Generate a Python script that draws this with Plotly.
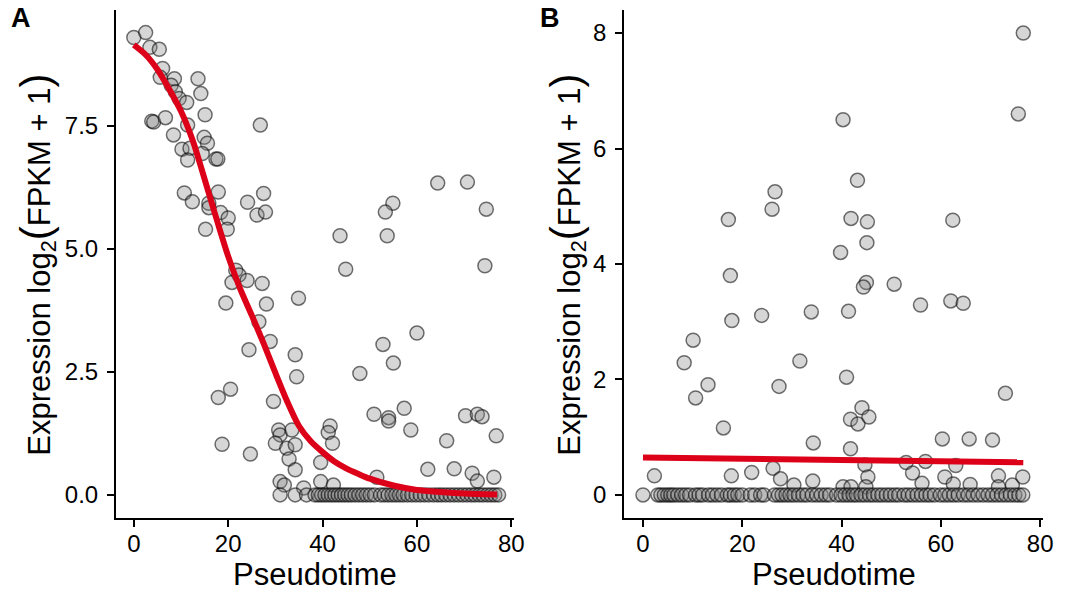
import plotly.graph_objects as go

# ---------------- Panel A data ----------------
a_x = [0.0, 2.5, 3.4, 5.4, 6.1, 5.6, 8.6, 7.9, 8.8, 9.6, 11.2, 13.6, 14.2, 15.1, 3.8, 4.2, 6.7, 11.4,
       8.4, 14.9, 15.6, 10.2, 11.9, 14.5, 11.4, 17.4, 17.8, 26.8, 10.7, 12.4, 17.9, 15.9, 15.9, 18.4,
       20.0, 19.8, 15.2, 24.1, 27.5, 26.1, 27.9,
       21.6, 22.3, 20.8, 24.0, 27.2, 19.5, 28.1, 26.5, 28.9, 24.4, 34.9, 34.2, 34.5, 20.5, 17.9, 29.6,
       30.7, 31.0, 30.0, 33.5, 18.7, 24.7, 32.4, 32.9, 34.2, 31.0, 31.9,
       64.4, 70.7, 74.7, 54.9, 53.3, 43.7, 53.7, 44.9, 74.4, 60.0, 52.8, 55.0, 47.9, 50.9, 54.0, 54.0,
       57.3, 58.7, 70.3, 72.8, 73.8, 76.8, 66.3, 41.6, 41.2, 42.1, 34.2, 39.6, 62.3, 67.9, 71.7, 72.8,
       76.3, 51.5, 39.6, 42.3, 36.0]
a_y = [9.30, 9.40, 9.10, 9.06, 8.67, 8.49, 8.46, 8.33, 8.20, 8.06, 7.98, 8.46, 8.16, 7.73, 7.60, 7.58, 7.67, 7.52,
       7.32, 7.27, 7.15, 7.03, 7.05, 6.94, 6.81, 6.83, 6.83, 7.52, 6.14, 5.96, 6.16, 5.93, 5.84, 5.74,
       5.63, 5.40, 5.40, 5.95, 6.13, 5.69, 5.75,
       4.57, 4.47, 4.32, 4.36, 4.30, 3.90, 3.88, 3.52, 3.12, 2.95, 4.00, 2.85, 2.40, 2.15, 1.98, 1.90,
       1.32, 1.22, 1.05, 1.32, 1.03, 0.83, 0.95, 0.73, 0.51, 0.27, 0.20,
       6.34, 6.36, 5.81, 5.93, 5.75, 5.27, 5.27, 4.59, 4.66, 3.29, 3.06, 2.68, 2.47, 1.64, 1.57, 1.50,
       1.76, 1.32, 1.61, 1.64, 1.59, 1.20, 1.10, 1.40, 1.27, 1.05, 1.02, 0.66, 0.52, 0.53, 0.44, 0.28,
       0.36, 0.36, 0.27, 0.20, 0.14]
a_zero_x = [31.0, 34.2, 36.6, 38.4, 39.1, 39.8, 40.5, 41.2, 41.9, 42.6, 43.3, 44.0, 44.7, 45.4, 46.1,
            46.9, 47.7, 48.5, 49.3, 50.1, 51.0, 52.3, 53.1, 53.9, 54.7, 55.5, 56.3, 57.1, 58.0, 58.9,
            59.8, 60.7, 61.6, 62.5, 63.5, 64.4, 65.2, 66.1, 67.0, 67.9, 68.8, 69.7, 70.6, 71.5, 72.3,
            73.2, 74.0, 74.9, 75.7, 76.5, 77.3]
a_fit_x = [0, 2.5, 5, 7.5, 10, 12.5, 15, 17.5, 20, 22.5, 25, 27.5, 30, 32.5, 35, 37.5, 40, 42.5,
           45, 47.5, 50, 55, 60, 65, 70, 77]
a_fit_y = [9.15, 8.95, 8.65, 8.25, 7.80, 7.20, 6.42, 5.62, 4.85, 4.20, 3.65, 3.08, 2.48, 1.90, 1.40,
           1.09, 0.87, 0.68, 0.54, 0.43, 0.33, 0.19, 0.10, 0.06, 0.03, 0.01]

# ---------------- Panel B data ----------------
b_x = [26.6, 26.0, 17.2, 17.6, 17.9, 23.9, 33.9, 10.1, 8.3, 31.6, 13.1, 10.6, 27.4, 16.2, 34.3, 2.3,
       17.8, 21.9, 26.2, 27.7, 30.4, 34.2,
       76.6, 75.6, 40.3, 43.2, 41.9, 45.2, 62.4, 45.1, 39.8, 45.0, 44.4, 50.6, 55.9, 62.0, 64.5, 41.4,
       41.0, 73.0, 44.1, 41.8, 43.3, 45.5, 41.8, 60.3, 65.7, 70.4, 44.7, 45.3, 53.0, 54.3, 56.9, 56.2,
       63.0, 60.8, 62.5, 65.9, 71.6, 71.6, 74.4, 76.5, 40.3, 41.9, 44.9]
b_y = [5.25, 4.95, 4.77, 3.80, 3.02, 3.11, 3.17, 2.68, 2.29, 2.32, 1.91, 1.68, 1.88, 1.16, 0.90, 0.33,
       0.33, 0.39, 0.46, 0.28, 0.17, 0.24,
       8.00, 6.60, 6.50, 5.45, 4.79, 4.73, 4.76, 4.37, 4.20, 3.68, 3.60, 3.65, 3.29, 3.36, 3.32, 3.18,
       2.04, 1.76, 1.51, 1.31, 1.23, 1.35, 0.80, 0.97, 0.97, 0.95, 0.52, 0.31, 0.56, 0.38, 0.58, 0.20,
       0.51, 0.31, 0.19, 0.18, 0.33, 0.14, 0.17, 0.31, 0.14, 0.14, 0.14]
b_zero_x = [0.0, 3.0, 3.6, 4.3, 5.0, 5.6, 6.2, 7.0, 7.8, 8.6, 9.4, 10.6, 11.3, 12.0, 13.2, 14.0, 14.9,
            15.8, 17.0, 17.6, 18.4, 19.1, 20.0, 21.6, 22.5, 23.7, 24.4, 26.5, 27.3, 28.0, 28.8, 29.6,
            30.4, 31.3, 32.2, 33.0, 34.1, 35.0, 35.9, 36.8, 37.6, 39.0, 39.9, 40.7, 41.5, 42.3, 43.0,
            43.9, 44.7, 45.6, 46.4, 47.3, 48.1, 49.0, 49.8, 50.7, 51.5, 52.6, 53.4, 54.3, 55.2, 56.1,
            57.0, 57.8, 58.7, 59.9, 60.8, 61.7, 62.6, 63.5, 64.6, 65.5, 66.5, 67.5, 68.5, 69.5, 70.4,
            71.3, 72.2, 73.1, 74.0, 74.9, 75.7, 76.5]
b_fit_x = [0, 76.6]
b_fit_y = [0.65, 0.565]

x_ticks = [0, 20, 40, 60, 80]
a_y_ticks = [0, 2.5, 5.0, 7.5]
b_y_ticks = [0, 2, 4, 6, 8]

# ---------------- styling ----------------
W, H = 1069, 592
FONT = "Liberation Sans, Arial, Helvetica, sans-serif"
PT_FILL = "rgba(128,128,128,0.32)"
PT_LINE = "rgba(0,0,0,0.55)"
RED = "#dc0019"

marker = dict(size=14, color=PT_FILL, line=dict(color=PT_LINE, width=1.5))

fig = go.Figure()
fig.add_trace(go.Scatter(x=a_x + a_zero_x, y=a_y + [0] * len(a_zero_x), mode="markers",
                         marker=marker, xaxis="x", yaxis="y", showlegend=False))
fig.add_trace(go.Scatter(x=a_fit_x, y=a_fit_y, mode="lines",
                         line=dict(color=RED, width=6, shape="spline", smoothing=0.8),
                         xaxis="x", yaxis="y", showlegend=False))
fig.add_trace(go.Scatter(x=b_x + b_zero_x, y=b_y + [0] * len(b_zero_x), mode="markers",
                         marker=marker, xaxis="x2", yaxis="y2", showlegend=False))
fig.add_trace(go.Scatter(x=b_fit_x, y=b_fit_y, mode="lines",
                         line=dict(color=RED, width=6),
                         xaxis="x2", yaxis="y2", showlegend=False))

ydom = [(592 - 518) / H, (592 - 10) / H]
axis_common = dict(showline=True, linecolor="black", linewidth=1.8, ticks="outside", ticklen=7,
                   tickwidth=1.8, tickcolor="black", showgrid=False, zeroline=False,
                   tickfont=dict(family=FONT, size=24, color="black"))
xstand = dict(ticklabelstandoff=-4)
ystand = dict(ticklabelstandoff=4)

fig.update_layout(
    width=W, height=H, margin=dict(l=0, r=0, t=0, b=0),
    paper_bgcolor="white", plot_bgcolor="white",
    xaxis=dict(domain=[117 / W, 519 / W], range=[-3.8, 80.6], tickvals=x_ticks, anchor="y",
               **axis_common, **xstand),
    yaxis=dict(domain=ydom, range=[-0.47, 9.86], tickvals=a_y_ticks, tickformat=".1f", anchor="x",
               **axis_common, **ystand),
    xaxis2=dict(domain=[630 / W, 1053 / W], range=[-3.8, 80.6], tickvals=x_ticks, anchor="y2",
                **axis_common, **xstand),
    yaxis2=dict(domain=ydom, range=[-0.4, 8.4], tickvals=b_y_ticks, anchor="x2",
                **axis_common, **ystand),
)

ytitle = ("Expression log<sub>2</sub><span style='font-size:42px'>(</span>FPKM + 1"
          "<span style='font-size:42px'>)</span>")
ymid = (592 - 265) / H
ann = [
    dict(text=ytitle, x=37 / W, y=ymid, textangle=-90),
    dict(text=ytitle, x=572 / W, y=ymid, textangle=-90),
    dict(text="Pseudotime", x=318 / W, y=(592 - 574) / H),
    dict(text="Pseudotime", x=841.5 / W, y=(592 - 574) / H),
]
for a in ann:
    fig.add_annotation(xref="paper", yref="paper", showarrow=False, xanchor="center", yanchor="middle",
                       font=dict(family=FONT, size=31, color="black"), **a)
fig.add_annotation(text="<b>A</b>", x=21 / W, y=(592 - 18) / H, xref="paper", yref="paper", showarrow=False,
                   xanchor="center", yanchor="middle", font=dict(family=FONT, size=27, color="black"))
fig.add_annotation(text="<b>B</b>", x=555 / W, y=(592 - 18) / H, xref="paper", yref="paper", showarrow=False,
                   xanchor="center", yanchor="middle", font=dict(family=FONT, size=27, color="black"))

fig.write_html("out.html")
